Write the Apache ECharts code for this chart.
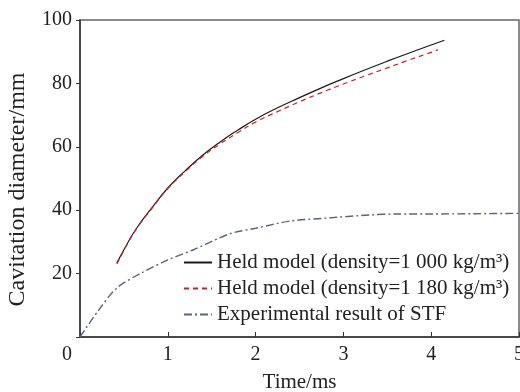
<!DOCTYPE html>
<html>
<head>
<meta charset="utf-8">
<script src="https://cdn.jsdelivr.net/npm/echarts@6/dist/echarts.min.js"></script>
<style>
  html, body { margin: 0; padding: 0; background: #fff; }
  #chart { width: 520px; height: 392px; }
</style>
</head>
<body>
<div id="chart"></div>
<script>
// Held model, density = 1000 kg/m3
const held1000 = [
  [0.42, 23.3], [0.5, 27.5], [0.6, 32.4], [0.7, 36.5], [0.8, 40.1],
  [1.0, 47.0], [1.2, 52.5], [1.4, 57.4], [1.6, 61.6], [1.8, 65.3],
  [2.0, 68.7], [2.25, 72.3], [2.5, 75.5], [2.75, 78.6], [3.0, 81.5],
  [3.25, 84.3], [3.5, 87.0], [3.75, 89.6], [4.0, 92.1], [4.15, 93.6]
];
// Held model, density = 1180 kg/m3
const held1180 = [
  [0.42, 23.0], [0.5, 27.3], [0.6, 32.2], [0.7, 36.3], [0.8, 39.9],
  [1.0, 46.8], [1.2, 52.2], [1.4, 57.0], [1.6, 61.0], [1.8, 64.5],
  [2.0, 67.8], [2.25, 71.1], [2.5, 74.2], [2.75, 77.1], [3.0, 79.8],
  [3.25, 82.4], [3.5, 84.9], [3.75, 87.4], [4.0, 89.8], [4.08, 90.6]
];
// Experimental result of STF
const experiment = [
  [0, 0], [0.2, 8], [0.42, 15.5], [0.7, 20.2], [1.0, 24.3], [1.3, 27.6],
  [1.7, 32.5], [2.0, 34.3], [2.4, 36.6], [2.8, 37.5], [3.3, 38.5],
  [3.6, 38.8], [4.0, 38.8], [4.5, 38.9], [5.0, 39.0]
];

const seriesNames = [
  "Held model (density=1 000 kg/m\u00B3)",
  "Held model (density=1 180 kg/m\u00B3)",
  "Experimental result of STF"
];

const FONT = "Liberation Serif";
const TEXT = "#222";

const chart = echarts.init(document.getElementById("chart"));

chart.setOption({
  backgroundColor: "#fff",
  animation: false,
  textStyle: { fontFamily: FONT },
  grid: {
    left: 80, top: 20, right: 1, bottom: 55,
    outerBoundsMode: "none",
    containLabel: false,
    show: true, borderColor: "#666", borderWidth: 1.5
  },
  legend: {
    orient: "vertical",
    left: 178,
    top: 247,
    itemWidth: 28,
    itemHeight: 14,
    itemGap: 5,
    // hide the point symbol, keep only the line sample
    itemStyle: { opacity: 0 },
    textStyle: { fontFamily: FONT, fontSize: 21, color: TEXT },
    data: seriesNames
  },
  xAxis: {
    type: "value",
    min: 0, max: 5, interval: 1,
    name: "Time/ms",
    nameLocation: "middle",
    nameGap: 35,
    nameTextStyle: { fontFamily: FONT, fontSize: 21, color: TEXT },
    axisLine: { lineStyle: { color: "#333", width: 1.5 } },
    axisTick: { inside: true, length: 5, lineStyle: { color: "#333" } },
    axisLabel: {
      fontFamily: FONT, fontSize: 20, color: TEXT, margin: 8,
      formatter: (v) => (v === 0 ? "{o|0}" : String(v)),
      rich: { o: { fontFamily: FONT, fontSize: 20, color: TEXT, padding: [0, 26, 0, 0] } }
    },
    splitLine: { show: false }
  },
  yAxis: {
    type: "value",
    min: 0, max: 100, interval: 20,
    name: "Cavitation diameter/mm",
    nameLocation: "middle",
    nameGap: 50,
    nameTextStyle: { fontFamily: FONT, fontSize: 24, color: TEXT, padding: [0, 22, 0, 0] },
    axisLine: { lineStyle: { color: "#333", width: 1.5 } },
    axisTick: { length: 4, lineStyle: { color: "#333" } },
    axisLabel: {
      fontFamily: FONT, fontSize: 20, color: TEXT, margin: 8,
      formatter: (v) => (v === 0 ? "" : String(v))
    },
    splitLine: { show: false }
  },
  series: [
    {
      name: seriesNames[0],
      type: "line",
      data: held1000,
      smooth: true,
      symbol: "none",
      lineStyle: { color: "#1a1a1a", width: 1.2 },
      itemStyle: { color: "#1a1a1a" }
    },
    {
      name: seriesNames[1],
      type: "line",
      data: held1180,
      smooth: true,
      symbol: "none",
      lineStyle: { color: "#d02020", width: 1.2, type: [5, 4] },
      itemStyle: { color: "#d02020" }
    },
    {
      name: seriesNames[2],
      type: "line",
      data: experiment,
      smooth: 0.3,
      symbol: "none",
      lineStyle: { color: "#5c6380", width: 1.4, type: [8, 3, 2, 3] },
      itemStyle: { color: "#5c6380" }
    }
  ]
});
</script>
</body>
</html>
